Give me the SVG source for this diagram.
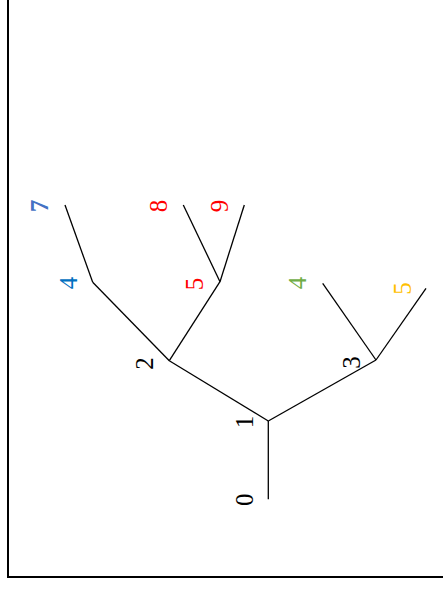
<svg xmlns="http://www.w3.org/2000/svg" width="443" height="590" viewBox="0 0 443 590">
<style>
.e{stroke:#000;stroke-width:1.3;fill:none}
.t{font-family:"Liberation Serif","Times New Roman",serif;font-size:25px;text-anchor:middle}
</style>
<rect x="0" y="0" width="443" height="590" fill="#fff"/>
<path d="M8,-5 V577 H450" fill="none" stroke="#000" stroke-width="2"/>
<g id="connectors">
<line class="e" x1="268.3" y1="499.3" x2="268.3" y2="421"/>
<line class="e" x1="268.3" y1="421" x2="169.3" y2="360.7"/>
<line class="e" x1="268.3" y1="421" x2="376" y2="360"/>
<line class="e" x1="169.3" y1="360.7" x2="92.7" y2="282.3"/>
<line class="e" x1="92.7" y1="282.3" x2="65" y2="205"/>
<line class="e" x1="169.3" y1="360.7" x2="220" y2="281.7"/>
<line class="e" x1="220" y1="281.7" x2="183.3" y2="205"/>
<line class="e" x1="220" y1="281.7" x2="244.3" y2="205"/>
<line class="e" x1="376" y1="360" x2="322.7" y2="283.3"/>
<line class="e" x1="376" y1="360" x2="426" y2="288.3"/>
</g>
<g id="n0"><text class="t" transform="translate(252.5,499.7) rotate(-90)">0</text></g>
<g id="n1"><text class="t" transform="translate(252.5,422) rotate(-90)">1</text></g>
<g id="n2"><text class="t" transform="translate(153,363.5) rotate(-90)">2</text></g>
<g id="n3"><text class="t" transform="translate(360,362.5) rotate(-90)">3</text></g>
<g id="n4b"><text class="t" transform="translate(77,283) rotate(-90)" fill="#0070C0">4</text></g>
<g id="n7"><text class="t" transform="translate(48,206) rotate(-90)" fill="#4472C4" font-weight="bold">7</text></g>
<g id="n5r"><text class="t" transform="translate(203,284) rotate(-90)" fill="#FF0000">5</text></g>
<g id="n8"><text class="t" transform="translate(167,206) rotate(-90)" fill="#FF0000">8</text></g>
<g id="n9"><text class="t" transform="translate(228,206) rotate(-90)" fill="#FF0000">9</text></g>
<g id="n4g"><text class="t" transform="translate(306,283) rotate(-90)" fill="#70AD47">4</text></g>
<g id="n5y"><text class="t" transform="translate(411,288.5) rotate(-90)" fill="#FFC000">5</text></g>
</svg>
